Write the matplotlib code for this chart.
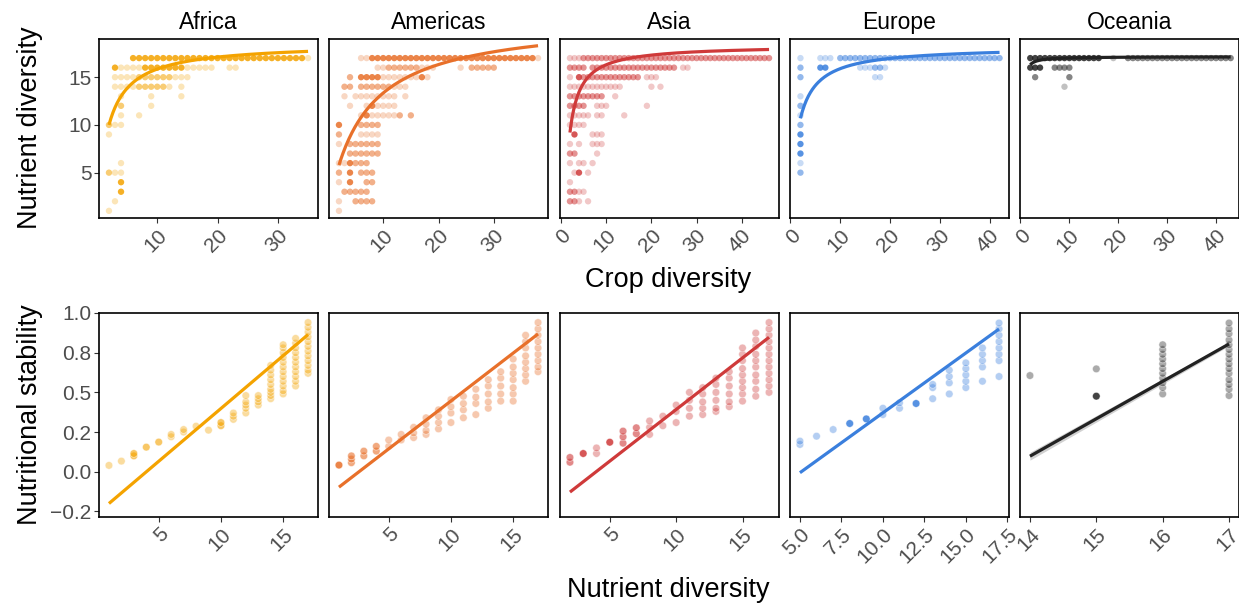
import matplotlib
matplotlib.use("Agg")
import matplotlib.pyplot as plt
import matplotlib.colors as mcolors
import numpy as np

plt.rcParams['font.family'] = ['Liberation Sans', 'DejaVu Sans']

regions = ["Africa", "Americas", "Asia", "Europe", "Oceania"]
colors = ["#F4A300", "#E8702A", "#CF3A3A", "#3A7FDD", "#222222"]

# ---- Top row: nutrient diversity (y) vs crop diversity spans (x from, x to, intensity)
africa_top = [
    (17, [(6, 34, 3), (35, 35, 1)]),
    (16, [(3, 3, 3), (4, 7, 1), (8, 14, 3), (15, 19, 1), (22, 23, 1)]),
    (15, [(3, 6, 1), (7, 12, 2), (13, 15, 1)]),
    (14, [(3, 6, 1), (7, 11, 2), (12, 12, 1), (14, 14, 1)]),
    (13, [(4, 4, 1), (9, 9, 1), (14, 14, 1)]),
    (12, [(4, 4, 2), (9, 9, 1)]),
    (11, [(4, 4, 1), (7, 7, 1)]),
    (10, [(2, 2, 2), (3, 4, 1)]),
    (9, [(2, 2, 1)]),
    (6, [(4, 4, 1)]),
    (5, [(2, 2, 2), (3, 4, 1)]),
    (4, [(4, 4, 3)]),
    (3, [(4, 4, 3)]),
    (2, [(3, 3, 1)]),
    (1, [(2, 2, 1)]),
]
americas_top = [
    (17, [(6, 7, 1), (8, 37, 3), (38, 38, 1)]),
    (16, [(9, 10, 1), (11, 16, 2), (17, 19, 1), (24, 24, 1), (26, 30, 2)]),
    (15, [(4, 4, 2), (6, 9, 3), (10, 16, 1), (17, 17, 3), (18, 18, 1)]),
    (14, [(3, 4, 2), (6, 11, 2), (12, 14, 1)]),
    (13, [(3, 3, 1), (5, 12, 1), (14, 14, 1)]),
    (12, [(4, 4, 1), (7, 7, 1), (8, 8, 3), (9, 12, 1)]),
    (11, [(6, 6, 1), (7, 7, 3), (8, 12, 1), (13, 13, 2), (15, 15, 2)]),
    (10, [(2, 2, 3), (6, 9, 2)]),
    (9, [(2, 2, 2), (6, 9, 1)]),
    (8, [(2, 2, 1), (4, 9, 2)]),
    (7, [(4, 9, 2)]),
    (6, [(2, 3, 1), (4, 4, 3), (5, 7, 2)]),
    (5, [(2, 2, 2), (4, 4, 3), (6, 8, 2)]),
    (4, [(2, 2, 1), (4, 4, 3), (7, 8, 2)]),
    (3, [(3, 7, 2)]),
    (2, [(2, 2, 1), (5, 8, 2)]),
    (1, [(2, 2, 1)]),
]
asia_top = [
    (17, [(2, 4, 1), (5, 46, 2)]),
    (16, [(2, 5, 2), (7, 25, 2), (27, 28, 1)]),
    (15, [(2, 2, 1), (4, 4, 3), (5, 17, 2), (19, 21, 1)]),
    (14, [(2, 13, 1), (20, 20, 1), (22, 22, 1)]),
    (13, [(2, 9, 2), (12, 12, 1)]),
    (12, [(2, 5, 2), (8, 10, 1), (19, 19, 1)]),
    (11, [(2, 6, 1), (8, 9, 1), (14, 14, 1)]),
    (10, [(2, 5, 1)]),
    (9, [(3, 3, 3), (7, 9, 1)]),
    (8, [(2, 2, 1), (4, 4, 1), (7, 9, 1)]),
    (7, [(2, 3, 2), (8, 8, 1)]),
    (6, [(2, 2, 1), (4, 5, 1), (7, 7, 1)]),
    (5, [(3, 3, 1), (4, 4, 3), (6, 6, 1)]),
    (4, [(2, 2, 1)]),
    (3, [(2, 3, 2), (4, 5, 1)]),
    (2, [(2, 3, 2), (4, 4, 1), (6, 6, 1)]),
]
europe_top = [
    (17, [(2, 2, 1), (6, 8, 1), (10, 42, 2)]),
    (16, [(2, 2, 2), (6, 7, 3), (14, 16, 1), (17, 18, 2), (19, 19, 1)]),
    (15, [(2, 2, 2), (17, 18, 1)]),
    (13, [(2, 2, 1)]),
    (12, [(2, 2, 2)]),
    (11, [(2, 2, 1)]),
    (10, [(2, 2, 2)]),
    (9, [(2, 2, 3)]),
    (8, [(2, 2, 3)]),
    (7, [(2, 2, 3)]),
    (6, [(2, 2, 1)]),
    (5, [(2, 2, 2)]),
]
oceania_top = [
    (17, [(2, 16, 3), (19, 19, 1), (22, 43, 2)]),
    (16, [(2, 4, 3), (7, 10, 2)]),
    (15, [(3, 3, 2), (10, 10, 2)]),
    (14, [(9, 9, 1)]),
]
top_data = [africa_top, americas_top, asia_top, europe_top, oceania_top]

# fitted saturating curves y = a - b / (x + c)
fit_a = [18.57, 21.18, 18.36, 18.21, 17.15]
fit_b = [31.8, 127.7, 21.25, 26.75, 1.275]
fit_c = [1.71, 6.30, 0.32, 1.56, -0.5]
fit_xmin = [2, 2, 2, 2, 2]
fit_xmax = [35, 38, 46, 42, 43]

# ---- Bottom row: nutritional stability vs nutrient diversity (x, [y values], intensity)
africa_bot = [
    (1, [0.04], 1), (2, [0.067], 1), (3, [0.10, 0.115], 2), (4, [0.155], 2),
    (5, [0.187], 2), (6, [0.22, 0.235], 1), (7, [0.25, 0.266], 1), (8, [0.287], 1),
    (9, [0.262], 1), (10, [0.29, 0.31], 2), (11, [0.33, 0.35, 0.37], 1),
    (12, [0.37, 0.40, 0.42, 0.44, 0.48], 1), (13, [0.42, 0.44, 0.46, 0.48], 1),
    (14, [0.46, 0.48, 0.50, 0.52, 0.55, 0.58, 0.61, 0.64, 0.67], 1),
    (15, [0.49, 0.51, 0.54, 0.57, 0.60, 0.63, 0.66, 0.69, 0.72, 0.75, 0.78, 0.80], 1),
    (16, [0.54, 0.57, 0.60, 0.63, 0.66, 0.69, 0.72, 0.75, 0.78, 0.81, 0.84], 1),
    (17, [0.62, 0.64, 0.67, 0.70, 0.73, 0.76, 0.79, 0.82, 0.85, 0.88, 0.91, 0.94], 1),
]
americas_bot = [
    (1, [0.042], 3), (2, [0.057, 0.08, 0.10], 2), (3, [0.10, 0.13], 2), (4, [0.13, 0.16], 2),
    (5, [0.16, 0.20], 1), (6, [0.20, 0.235], 1), (7, [0.215, 0.245, 0.28], 1),
    (8, [0.235, 0.26, 0.30, 0.34], 1), (9, [0.27, 0.31, 0.35, 0.39], 1),
    (10, [0.31, 0.37, 0.41, 0.455], 1), (11, [0.34, 0.39, 0.43, 0.476], 1),
    (12, [0.36, 0.43, 0.47, 0.52], 1), (13, [0.40, 0.44, 0.49, 0.54, 0.58], 1),
    (14, [0.445, 0.49, 0.54, 0.59, 0.63], 1),
    (15, [0.445, 0.49, 0.53, 0.58, 0.62, 0.66, 0.71], 1),
    (16, [0.57, 0.61, 0.65, 0.69, 0.73, 0.78, 0.82, 0.86], 1),
    (17, [0.63, 0.66, 0.70, 0.74, 0.78, 0.82, 0.86, 0.90, 0.94], 1),
]
asia_bot = [
    (2, [0.06, 0.09], 2), (3, [0.115], 3), (4, [0.115, 0.15], 1), (5, [0.186], 3),
    (6, [0.18, 0.22, 0.256], 2), (7, [0.24, 0.277], 2), (8, [0.235, 0.28, 0.32], 1),
    (9, [0.29, 0.35], 1), (10, [0.31, 0.38, 0.42], 1), (11, [0.35, 0.40, 0.45, 0.50], 1),
    (12, [0.36, 0.40, 0.44, 0.49, 0.53], 1), (13, [0.38, 0.40, 0.45, 0.50, 0.55, 0.59], 1),
    (14, [0.41, 0.44, 0.49, 0.54, 0.59, 0.63], 1),
    (15, [0.445, 0.49, 0.53, 0.57, 0.61, 0.65, 0.70, 0.74, 0.78], 1),
    (16, [0.476, 0.52, 0.57, 0.61, 0.66, 0.70, 0.74, 0.79, 0.83, 0.874], 1),
    (17, [0.50, 0.54, 0.58, 0.62, 0.66, 0.70, 0.74, 0.78, 0.82, 0.86, 0.90, 0.94], 1),
]
europe_bot = [
    (5, [0.172, 0.193], 1), (6, [0.224], 1), (7, [0.266], 1), (8, [0.304], 3),
    (9, [0.333], 3), (10, [0.36, 0.40], 1), (11, [0.40, 0.434], 1), (12, [0.43], 3),
    (13, [0.46, 0.53, 0.55], 1), (14, [0.49, 0.56, 0.60, 0.64], 1),
    (15, [0.53, 0.57, 0.61, 0.65, 0.686], 1), (16, [0.57, 0.66, 0.70, 0.74, 0.78], 1),
    (17, [0.60, 0.70, 0.74, 0.78, 0.82, 0.86, 0.90, 0.937], 1),
]
oceania_bot = [
    (14, [0.606], 1), (15, [0.648], 1), (15, [0.476], 3),
    (16, [0.49, 0.53, 0.56, 0.59, 0.62, 0.65, 0.68, 0.71, 0.74, 0.77, 0.80], 1),
    (17, [0.48, 0.52, 0.55, 0.58, 0.62, 0.65, 0.68, 0.71, 0.74, 0.77, 0.80, 0.83, 0.87, 0.90, 0.937], 1),
]
bot_data = [africa_bot, americas_bot, asia_bot, europe_bot, oceania_bot]

# linear fits (endpoints)
line_x0 = [1, 1, 2, 5, 14]
line_y0 = [-0.20, -0.097, -0.128, -0.006, 0.098]
line_x1 = [17, 17, 17, 17, 17]
line_y1 = [0.864, 0.868, 0.847, 0.899, 0.805]
oceania_ci = [0.025, 0.012]  # half-width of confidence band at ends

# axes config
top_xlim = [(0.35, 36.65), (0.2, 39.8), (-0.2, 48.2), (-0.1, 43.9), (-0.1, 44.7)]
top_xticks = [[10, 20, 30], [10, 20, 30], [0, 10, 20, 30, 40], [0, 10, 20, 30, 40], [0, 10, 20, 30, 40]]
top_ylim = (0.25, 19.0)
top_yticks = [5, 10, 15]
bot_xlim = [(0.2, 17.8), (0.2, 17.8), (1.25, 17.75), (4.4, 17.6), (13.85, 17.15)]
bot_xticks = [[5, 10, 15], [5, 10, 15], [5, 10, 15], [5.0, 7.5, 10.0, 12.5, 15.0, 17.5], [14, 15, 16, 17]]
bot_xticklabels = [["5", "10", "15"], ["5", "10", "15"], ["5", "10", "15"],
                   ["5.0", "7.5", "10.0", "12.5", "15.0", "17.5"], ["14", "15", "16", "17"]]
bot_ylim = (-0.285, 1.0)
bot_yticks = [-0.25, 0.0, 0.25, 0.5, 0.75, 1.0]
bot_yticklabels = ["\u22120.2", "0.0", "0.2", "0.5", "0.8", "1.0"]

top_alpha = {1: 0.28, 2: 0.55, 3: 0.85}
bot_alpha = {1: 0.38, 2: 0.6, 3: 0.85}

W, H = 1239, 606
fig = plt.figure(figsize=(W / 100, H / 100), dpi=100)
lefts = [99, 329, 560, 790, 1020]
pw = 219
tick_color = "#4D4D4D"


def style(ax):
    for s in ax.spines.values():
        s.set_linewidth(1.2)
        s.set_color("black")
    ax.tick_params(axis="both", length=3.5, width=0.8, color="#333333",
                   labelcolor=tick_color, labelsize=15, pad=2)


for i, reg in enumerate(regions):
    col = mcolors.to_rgb(colors[i])
    # top
    ax = fig.add_axes([lefts[i] / W, 1 - 218 / H, pw / W, 179 / H])
    xs, ys, cs = [], [], []
    for yv, segs in top_data[i]:
        for a, b, lvl in segs:
            for xv in np.arange(a, b + 1):
                xs.append(xv)
                ys.append(yv)
                cs.append((*col, top_alpha[lvl]))
    ax.scatter(xs, ys, s=21, c=cs, edgecolors="none", zorder=2)
    xf = np.linspace(fit_xmin[i], fit_xmax[i], 200)
    ax.plot(xf, fit_a[i] - fit_b[i] / (xf + fit_c[i]), color=colors[i], lw=2.3, zorder=3,
            solid_capstyle="butt")
    ax.set_xlim(*top_xlim[i])
    ax.set_ylim(*top_ylim)
    ax.set_xticks(top_xticks[i])
    ax.set_xticklabels([str(t) for t in top_xticks[i]], rotation=45, ha="right",
                       va="top", rotation_mode="anchor")
    style(ax)
    if i == 0:
        ax.set_yticks(top_yticks)
    else:
        ax.set_yticks([])
    ax.set_title(reg, fontsize=16.5, pad=7)

    # bottom
    ax2 = fig.add_axes([lefts[i] / W, 1 - 517 / H, pw / W, 204 / H])
    xs, ys, cs = [], [], []
    for xv, yl, lvl in bot_data[i]:
        for yv in yl:
            xs.append(xv)
            ys.append(yv)
            cs.append((*col, bot_alpha[lvl]))
    ax2.scatter(xs, ys, s=30, c=cs, edgecolors=(1, 1, 1, 0.6), linewidths=0.5, zorder=2)
    lx = [line_x0[i], line_x1[i]]
    ly = [line_y0[i], line_y1[i]]
    if reg == "Oceania":
        ax2.fill_between(lx, [ly[0] - oceania_ci[0], ly[1] - oceania_ci[1]],
                         [ly[0] + oceania_ci[0], ly[1] + oceania_ci[1]],
                         color="#999999", alpha=0.45, lw=0, zorder=2.5)
    ax2.plot(lx, ly, color=colors[i], lw=2.3, zorder=3, solid_capstyle="butt")
    ax2.set_xlim(*bot_xlim[i])
    ax2.set_ylim(*bot_ylim)
    ax2.set_xticks(bot_xticks[i])
    ax2.set_xticklabels(bot_xticklabels[i], rotation=45, ha="right", va="top",
                        rotation_mode="anchor")
    style(ax2)
    if i == 0:
        ax2.set_yticks(bot_yticks)
        ax2.set_yticklabels(bot_yticklabels)
    else:
        ax2.set_yticks([])

fig.text(30 / W, 1 - 128 / H, "Nutrient diversity", rotation=90, ha="center", va="center", fontsize=19.5)
fig.text(668 / W, 1 - 280 / H, "Crop diversity", ha="center", va="center", fontsize=19.5)
fig.text(30 / W, 1 - 415 / H, "Nutritional stability", rotation=90, ha="center", va="center", fontsize=19.5)
fig.text(668 / W, 1 - 590 / H, "Nutrient diversity", ha="center", va="center", fontsize=19.5)

fig.savefig("out.png", dpi=100)
